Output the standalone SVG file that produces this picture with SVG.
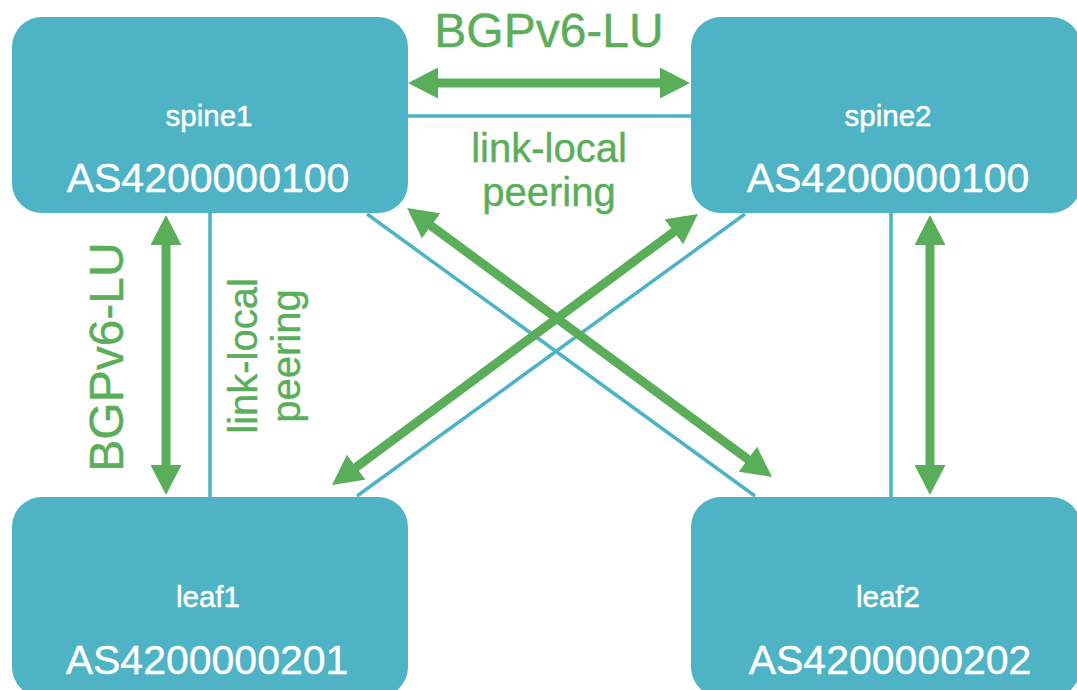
<svg xmlns="http://www.w3.org/2000/svg" width="1077" height="690" viewBox="0 0 1077 690">
  <style>
    .node { fill: #4db3c5; }
    .name { fill: #ffffff; stroke: #ffffff; stroke-width: 0.5; font-family: "Liberation Sans", Arial, sans-serif; font-size: 29.5px; text-anchor: middle; }
    .asn { fill: #ffffff; stroke: #ffffff; stroke-width: 0.4; font-family: "Liberation Sans", Arial, sans-serif; font-size: 41px; text-anchor: middle; }
    .link { stroke: #4db3c5; stroke-width: 3.5; fill: none; }
    .bgp { stroke: #5aae5a; stroke-width: 9; fill: none; marker-start: url(#head); marker-end: url(#head); }
    .lbl { fill: #5aae5a; stroke: #5aae5a; stroke-width: 0.4; font-family: "Liberation Sans", Arial, sans-serif; text-anchor: middle; }
    .big { font-size: 48px; }
    .small { font-size: 40px; }
  </style>
  <defs>
    <marker id="head" markerUnits="userSpaceOnUse" markerWidth="30" markerHeight="31" refX="10" refY="15.5" orient="auto-start-reverse" viewBox="0 0 30 31">
      <path d="M0,0 L30,15.5 L0,31 Z" fill="#5aae5a"/>
    </marker>
  </defs>

  <rect width="1077" height="690" fill="#ffffff"/>

  <!-- physical links and BGP sessions -->
  <g id="connectors">
    <line class="link" x1="408" y1="116" x2="691" y2="116"/>
    <line class="link" x1="210" y1="213" x2="210" y2="497"/>
    <line class="link" x1="891" y1="213" x2="891" y2="497"/>
    <line class="link" x1="367" y1="214" x2="755" y2="496"/>
    <line class="link" x1="745" y1="214" x2="357" y2="496"/>

    <line class="bgp" x1="428" y1="83" x2="670" y2="83"/>
    <line class="bgp" x1="166" y1="235" x2="166" y2="475"/>
    <line class="bgp" x1="930" y1="235" x2="930" y2="475"/>
    <line class="bgp" x1="423.1" y1="219.9" x2="755.9" y2="465.1"/>
    <line class="bgp" x1="348.1" y1="473.1" x2="681.9" y2="225.9"/>

    <text class="lbl big" x="549" y="47">BGPv6-LU</text>
    <text class="lbl small" x="549" y="162">link-local</text>
    <text class="lbl small" x="549" y="206">peering</text>
    <text class="lbl big" transform="translate(123,357) rotate(-90)">BGPv6-LU</text>
    <text class="lbl small" transform="translate(257,356) rotate(-90)">link-local</text>
    <text class="lbl small" transform="translate(300,356) rotate(-90)">peering</text>
  </g>

  <g id="spine1">
    <rect class="node" x="12" y="17" width="396" height="196" rx="30"/>
    <text class="name" x="209" y="126">spine1</text>
    <text class="asn" x="208" y="192">AS4200000100</text>
  </g>

  <g id="spine2">
    <rect class="node" x="691" y="17" width="390" height="196" rx="30"/>
    <text class="name" x="888" y="126">spine2</text>
    <text class="asn" x="888" y="192">AS4200000100</text>
  </g>

  <g id="leaf1">
    <rect class="node" x="12" y="497" width="396" height="200" rx="30"/>
    <text class="name" x="208" y="607">leaf1</text>
    <text class="asn" x="207" y="674">AS4200000201</text>
  </g>

  <g id="leaf2">
    <rect class="node" x="691" y="497" width="390" height="200" rx="30"/>
    <text class="name" x="888" y="607">leaf2</text>
    <text class="asn" x="890" y="674">AS4200000202</text>
  </g>
</svg>
